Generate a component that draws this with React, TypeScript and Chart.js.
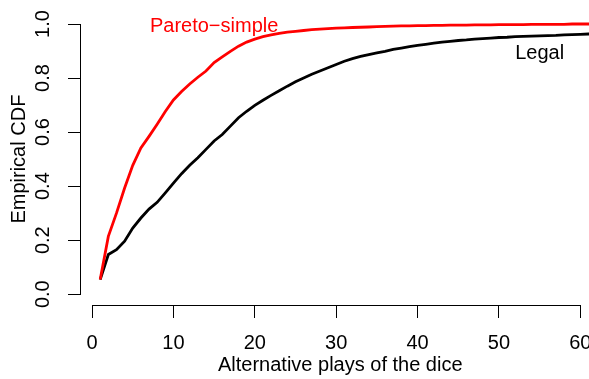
import React, { useEffect, useRef } from "react";
import { Chart, registerables } from "chart.js";

Chart.register(...registerables);

// ---- data ----
const xValues = [
  1, 2, 3, 4, 5, 6, 7, 8, 9, 10, 11, 12, 13, 14, 15, 16, 17, 18, 19, 20,
  21, 22, 23, 24, 25, 26, 27, 28, 29, 30, 31, 32, 33, 34, 35, 36, 37, 38, 39, 40,
  41, 42, 43, 44, 45, 46, 47, 48, 49, 50, 51, 52, 53, 54, 55, 56, 57, 58, 59, 60,
  61, 62,
];

const paretoSimple = [
  0.054, 0.214, 0.3, 0.393, 0.477, 0.541, 0.584, 0.629, 0.676, 0.719,
  0.75, 0.778, 0.803, 0.826, 0.857, 0.878, 0.899, 0.918, 0.933, 0.944,
  0.953, 0.96, 0.965, 0.97, 0.973, 0.976, 0.979, 0.981, 0.983, 0.985,
  0.986, 0.987, 0.988, 0.989, 0.99, 0.991, 0.992, 0.993, 0.993, 0.994,
  0.994, 0.995, 0.995, 0.996, 0.996, 0.996, 0.997, 0.997, 0.997, 0.998,
  0.998, 0.998, 0.998, 0.999, 0.999, 0.999, 0.999, 0.999, 1.0, 1.0,
  1.0, 1.0,
];

const legal = [
  0.054, 0.147, 0.165, 0.196, 0.245, 0.282, 0.315, 0.34, 0.375, 0.411,
  0.446, 0.477, 0.505, 0.536, 0.567, 0.591, 0.622, 0.653, 0.677, 0.699,
  0.718, 0.736, 0.753, 0.77, 0.786, 0.8, 0.814, 0.826, 0.838, 0.85,
  0.862, 0.872, 0.88, 0.887, 0.893, 0.899, 0.906, 0.911, 0.916, 0.921,
  0.925, 0.929, 0.933, 0.936, 0.939, 0.941, 0.944, 0.946, 0.948, 0.95,
  0.951, 0.953, 0.954, 0.955, 0.956, 0.957, 0.958, 0.96, 0.961, 0.962,
  0.963, 0.964,
];

const xTicks = [0, 10, 20, 30, 40, 50, 60];
const yTicks = [0, 0.2, 0.4, 0.6, 0.8, 1.0];
const xTitle = "Alternative plays of the dice";
const yTitle = "Empirical CDF";
const seriesNames = ["Pareto\u2212simple", "Legal"];
const seriesColors = ["#ff0000", "#000000"];
// text annotation anchors (data coordinates, like R's text(x, y, label))
const annotX = [15, 55];
const annotY = [1.0, 0.9];

const FONT = "'Liberation Sans', Arial, Helvetica, sans-serif";

const rAxesPlugin = {
  id: "rAxes",
  afterDraw(chart: any) {
    const ctx = chart.ctx;
    const xs = chart.scales.x;
    const ys = chart.scales.y;
    ctx.save();
    ctx.strokeStyle = "#000";
    ctx.lineWidth = 1;
    // x axis line from first to last tick
    const xy = Math.round(xs.top) + 0.5;
    ctx.beginPath();
    ctx.moveTo(Math.round(xs.getPixelForValue(xTicks[0])) + 0.5, xy);
    ctx.lineTo(Math.round(xs.getPixelForValue(xTicks[xTicks.length - 1])) + 0.5, xy);
    ctx.stroke();
    // y axis line from first to last tick
    const yx = Math.round(ys.right) - 0.5;
    ctx.beginPath();
    ctx.moveTo(yx, Math.round(ys.getPixelForValue(yTicks[0])) + 0.5);
    ctx.lineTo(yx, Math.round(ys.getPixelForValue(yTicks[yTicks.length - 1])) + 0.5);
    ctx.stroke();
    // in-plot labels
    ctx.font = `20px ${FONT}`;
    ctx.textAlign = "center";
    ctx.textBaseline = "alphabetic";
    for (let i = 0; i < seriesNames.length; i++) {
      ctx.fillStyle = seriesColors[i];
      ctx.fillText(
        seriesNames[i],
        xs.getPixelForValue(annotX[i]),
        ys.getPixelForValue(annotY[i]) + 8
      );
    }
    ctx.restore();
  },
};

export default function App() {
  const ref = useRef<HTMLCanvasElement | null>(null);

  useEffect(() => {
    document.body.style.margin = "0";
    const canvas = ref.current!;
    const chart = new Chart(canvas, {
      type: "scatter",
      data: {
        datasets: [
          {
            label: seriesNames[0],
            data: xValues.map((x, i) => ({ x, y: paretoSimple[i] })),
            showLine: true,
            borderColor: seriesColors[0],
            borderWidth: 2.8,
            pointRadius: 0,
            tension: 0,
          },
          {
            label: seriesNames[1],
            data: xValues.map((x, i) => ({ x, y: legal[i] })),
            showLine: true,
            borderColor: seriesColors[1],
            borderWidth: 2.8,
            pointRadius: 0,
            tension: 0,
          },
        ],
      },
      options: {
        responsive: false,
        animation: false,
        devicePixelRatio: 1,
        layout: { padding: { top: 13.2, right: 10.5, left: 0, bottom: 0 } },
        plugins: {
          legend: { display: false },
          tooltip: { enabled: false },
        },
        scales: {
          x: {
            type: "linear",
            min: -1.36,
            max: 62.36,
            afterBuildTicks: (s: any) => {
              s.ticks = xTicks.map((v) => ({ value: v }));
            },
            afterFit: (s: any) => {
              s.height = 74;
              s.paddingLeft = 0;
              s.paddingRight = 0;
            },
            border: { display: false },
            grid: {
              drawOnChartArea: false,
              drawTicks: true,
              tickLength: 13,
              color: "#000",
              lineWidth: 1,
            },
            ticks: {
              color: "#000",
              font: { family: FONT, size: 20 },
              padding: 13,
              maxRotation: 0,
              minRotation: 0,
              callback: (v: any) => String(v),
            },
            title: {
              display: true,
              text: xTitle,
              color: "#000",
              font: { family: FONT, size: 20 },
              padding: { top: 0, bottom: 1.5 },
            },
          },
          y: {
            type: "linear",
            min: -0.04,
            max: 1.04,
            afterBuildTicks: (s: any) => {
              s.ticks = yTicks.map((v) => ({ value: v }));
            },
            afterFit: (s: any) => {
              s.width = 81;
              s.paddingTop = 0;
              s.paddingBottom = 0;
            },
            border: { display: false },
            grid: {
              drawOnChartArea: false,
              drawTicks: true,
              tickLength: 13,
              color: "#000",
              lineWidth: 1,
            },
            ticks: {
              color: "#000",
              font: { family: FONT, size: 20 },
              padding: 10.6,
              minRotation: 90,
              maxRotation: 90,
              crossAlign: "center",
              callback: (v: any) => Number(v).toFixed(1),
            },
            title: {
              display: true,
              text: yTitle,
              color: "#000",
              font: { family: FONT, size: 20 },
              padding: { top: 7, bottom: 0 },
            },
          },
        },
      },
      plugins: [rAxesPlugin],
    } as any);
    return () => chart.destroy();
  }, []);

  return (
    <div
      style={{
        position: "fixed",
        left: 0,
        top: 0,
        width: 589,
        height: 379,
        overflow: "hidden",
        background: "#fff",
      }}
    >
      <canvas ref={ref} width={610} height={379} style={{ display: "block" }} />
    </div>
  );
}
